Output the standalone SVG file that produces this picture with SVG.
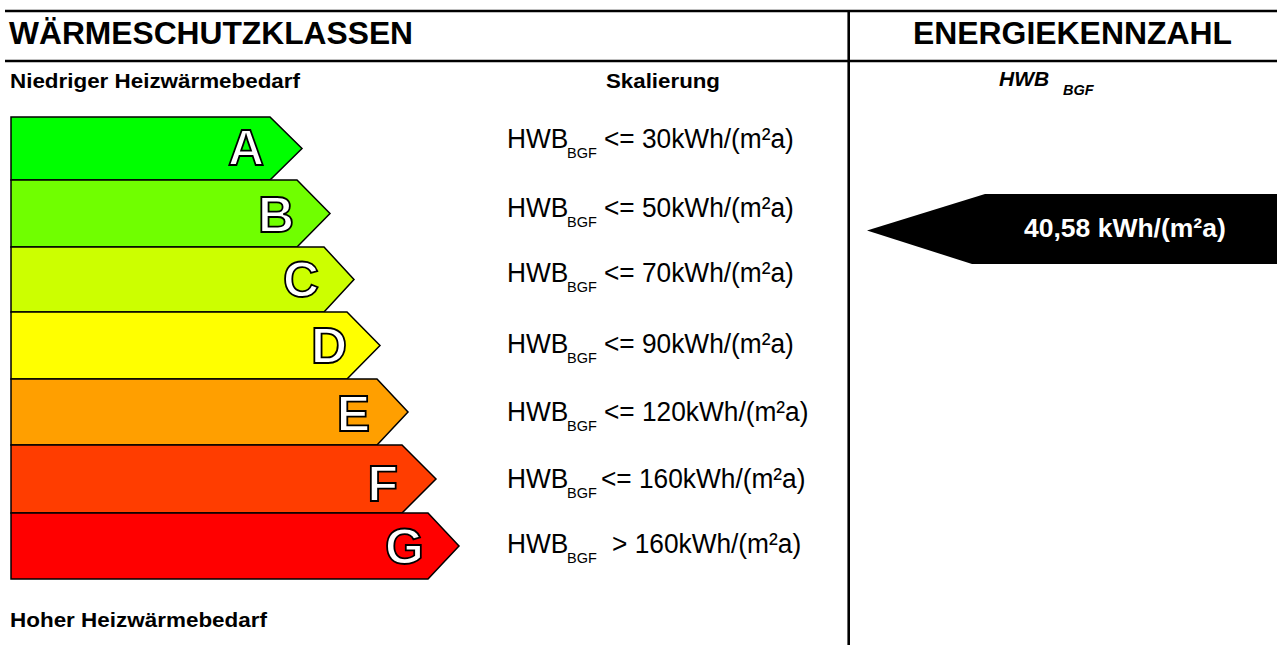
<svg xmlns="http://www.w3.org/2000/svg" width="1277" height="645" viewBox="0 0 1277 645">
<style>
  text { font-family: "Liberation Sans", Arial, sans-serif; fill: #000; }
  .h1 { font-size: 31.5px; font-weight: bold; }
  .h2 { font-size: 20px; font-weight: bold; }
  .row { font-size: 26.3px; }
  .sub { font-size: 14.5px; }
  .bar { stroke: #000; stroke-width: 1.5; stroke-linejoin: miter; }
  .letter { font-size: 50px; font-weight: bold; fill: #fff; stroke: #000; stroke-width: 1.8; text-anchor: end; }
  .frame { stroke: #000; stroke-width: 2.6; fill: none; }
</style>
<rect x="0" y="0" width="1277" height="645" fill="#fff"/>
<g id="frame">
  <line class="frame" x1="5" y1="11" x2="1277" y2="11"/>
  <line class="frame" x1="5" y1="61" x2="1277" y2="61"/>
  <line class="frame" x1="848.7" y1="11" x2="848.7" y2="645"/>
</g>
<g id="headers">
  <text class="h1" x="9" y="44" textLength="404" lengthAdjust="spacingAndGlyphs">WÄRMESCHUTZKLASSEN</text>
  <text class="h1" x="913" y="44" textLength="319" lengthAdjust="spacingAndGlyphs">ENERGIEKENNZAHL</text>
  <text class="h2" x="10" y="88" textLength="290" lengthAdjust="spacingAndGlyphs">Niedriger Heizwärmebedarf</text>
  <text class="h2" x="606" y="88" textLength="114" lengthAdjust="spacingAndGlyphs">Skalierung</text>
  <text x="999" y="86" style="font-size:21px;font-weight:bold;font-style:italic">HWB<tspan x="1063" y="95" style="font-size:14.5px">BGF</tspan></text>
  <text class="h2" x="10" y="627" textLength="257" lengthAdjust="spacingAndGlyphs">Hoher Heizwärmebedarf</text>
</g>
<g id="class-A">
  <polygon class="bar" fill="#00ff00" points="11,117 270,117 302,148.5 270,180 11,180"/>
  <text class="letter" x="264" y="165">A</text>
  <text class="row" transform="translate(507,148) scale(1,1.07)" x="0" y="0">HWB<tspan class="sub" x="60" y="8.9">BGF</tspan><tspan x="97" y="0">&lt;= 30kWh/(m²a)</tspan></text>
</g>
<g id="class-B">
  <polygon class="bar" fill="#70ff00" points="11,180 297,180 330,213.5 297,247 11,247"/>
  <text class="letter" x="294" y="232">B</text>
  <text class="row" transform="translate(507,217) scale(1,1.07)" x="0" y="0">HWB<tspan class="sub" x="60" y="8.9">BGF</tspan><tspan x="97" y="0">&lt;= 50kWh/(m²a)</tspan></text>
</g>
<g id="class-C">
  <polygon class="bar" fill="#ccff00" points="11,247 324,247 354,279.5 324,312 11,312"/>
  <text class="letter" x="319" y="297">C</text>
  <text class="row" transform="translate(507,282) scale(1,1.07)" x="0" y="0">HWB<tspan class="sub" x="60" y="8.9">BGF</tspan><tspan x="97" y="0">&lt;= 70kWh/(m²a)</tspan></text>
</g>
<g id="class-D">
  <polygon class="bar" fill="#ffff00" points="11,312 347,312 380,345.5 347,379 11,379"/>
  <text class="letter" x="347" y="363">D</text>
  <text class="row" transform="translate(507,353) scale(1,1.07)" x="0" y="0">HWB<tspan class="sub" x="60" y="8.9">BGF</tspan><tspan x="97" y="0">&lt;= 90kWh/(m²a)</tspan></text>
</g>
<g id="class-E">
  <polygon class="bar" fill="#ff9f00" points="11,379 377,379 408,412 377,445 11,445"/>
  <text class="letter" x="370" y="431">E</text>
  <text class="row" transform="translate(507,421) scale(1,1.07)" x="0" y="0">HWB<tspan class="sub" x="60" y="8.9">BGF</tspan><tspan x="97" y="0">&lt;= 120kWh/(m²a)</tspan></text>
</g>
<g id="class-F">
  <polygon class="bar" fill="#ff3d00" points="11,445 402,445 436,479 402,513 11,513"/>
  <text class="letter" x="398" y="501">F</text>
  <text class="row" transform="translate(507,488) scale(1,1.07)" x="0" y="0">HWB<tspan class="sub" x="60" y="8.9">BGF</tspan><tspan x="94" y="0">&lt;= 160kWh/(m²a)</tspan></text>
</g>
<g id="class-G">
  <polygon class="bar" fill="#ff0000" points="11,513 428,513 459,546 428,579 11,579"/>
  <text class="letter" x="424" y="564">G</text>
  <text class="row" transform="translate(507,553) scale(1,1.07)" x="0" y="0">HWB<tspan class="sub" x="60" y="8.9">BGF</tspan><tspan x="105" y="0">&gt; 160kWh/(m²a)</tspan></text>
</g>
<g id="pointer">
  <polygon fill="#000" points="867,230.5 985,194 1277,194 1277,264 972,264"/>
  <text x="1024" y="237" style="font-size:26.5px;font-weight:bold;fill:#fff">40,58 kWh/(m²a)</text>
</g>
<g id="connectors"></g>
</svg>
